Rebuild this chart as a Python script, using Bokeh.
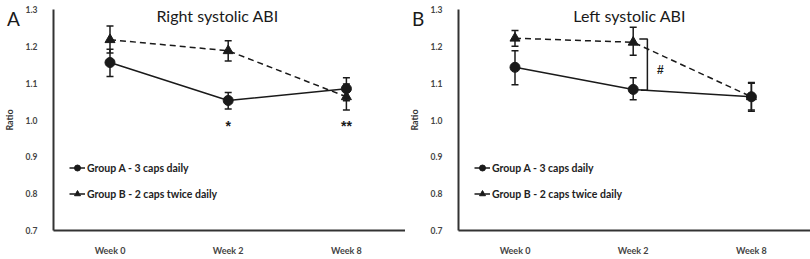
from bokeh.plotting import figure
from bokeh.models import (Range1d, FixedTicker, Whisker, TeeHead, ColumnDataSource,
                          Legend, LegendItem, Label, PrintfTickFormatter, Div)
from bokeh.layouts import row, column
from bokeh.embed import file_html
from bokeh.resources import INLINE

weeks = ["Week 0", "Week 2", "Week 8"]
xpos = [0, 1, 2]
y_ticks = [0.7, 0.8, 0.9, 1.0, 1.1, 1.2, 1.3]

# Right systolic ABI
right_a = [1.156, 1.053, 1.085]
right_a_lo = [1.118, 1.030, 1.052]
right_a_hi = [1.192, 1.075, 1.115]
right_b = [1.218, 1.188, 1.063]
right_b_lo = [1.182, 1.160, 1.027]
right_b_hi = [1.255, 1.215, 1.098]

# Left systolic ABI
left_a = [1.143, 1.083, 1.063]
left_a_lo = [1.096, 1.055, 1.024]
left_a_hi = [1.188, 1.115, 1.102]
left_b = [1.222, 1.211, 1.063]
left_b_lo = [1.200, 1.176, 1.027]
left_b_hi = [1.243, 1.252, 1.100]

label_a = "Group A - 3 caps daily"
label_b = "Group B - 2 caps twice daily"
panel_letters = ["A", "B"]

FONT = "Lato"
INK = "#1a1a1a"
H = 258


def panel(title, title_x, a, a_lo, a_hi, b, b_lo, b_hi):
    p = figure(width=405, height=H, output_backend="svg", toolbar_location=None,
               x_range=Range1d(-0.478, 2.5), y_range=Range1d(0.7, 1.3),
               min_border_left=45, min_border_right=0, min_border_top=9,
               min_border_bottom=20)
    p.outline_line_color = None
    p.xgrid.visible = False
    p.ygrid.visible = False
    p.background_fill_color = "white"
    p.border_fill_color = "white"

    for ax in (p.xaxis[0], p.yaxis[0]):
        ax.axis_line_color = "#333333"
        ax.axis_line_width = 2
        ax.major_tick_line_color = None
        ax.minor_tick_line_color = None
        ax.major_label_text_font = FONT
        ax.major_label_text_font_style = "bold"
        ax.major_label_text_color = "#444444"
    p.xaxis.major_label_text_font_size = "9px"
    p.yaxis.major_label_text_font_size = "8.5px"
    p.xaxis.ticker = FixedTicker(ticks=xpos)
    p.xaxis.major_label_overrides = {x: w for x, w in zip(xpos, weeks)}
    p.xaxis.major_label_standoff = 8
    p.yaxis.ticker = FixedTicker(ticks=y_ticks)
    p.yaxis.formatter = PrintfTickFormatter(format="%.1f")
    p.yaxis.major_label_standoff = 10
    p.yaxis.axis_label = "Ratio"
    p.yaxis.axis_label_text_font = FONT
    p.yaxis.axis_label_text_font_style = "bold"
    p.yaxis.axis_label_text_font_size = "9px"
    p.yaxis.axis_label_text_color = "#333333"
    p.yaxis.axis_label_standoff = 8

    src_a = ColumnDataSource(dict(x=xpos, y=a, lo=a_lo, hi=a_hi))
    src_b = ColumnDataSource(dict(x=xpos, y=b, lo=b_lo, hi=b_hi))

    for src in (src_a, src_b):
        w = Whisker(base="x", upper="hi", lower="lo", source=src,
                    line_color=INK, line_width=1.5,
                    upper_head=TeeHead(size=7, line_color=INK, line_width=1.5),
                    lower_head=TeeHead(size=7, line_color=INK, line_width=1.5))
        p.add_layout(w)

    la = p.line("x", "y", source=src_a, line_color=INK, line_width=1.5)
    sa = p.scatter("x", "y", source=src_a, marker="circle", size=10,
                   fill_color=INK, line_color=INK)
    lb = p.line("x", "y", source=src_b, line_color=INK, line_width=1.5,
                line_dash="6 4")
    sb = p.scatter("x", "y", source=src_b, marker="triangle", size=10,
                   fill_color=INK, line_color=INK)

    legend = Legend(items=[LegendItem(label=label_a, renderers=[la, sa]),
                           LegendItem(label=label_b, renderers=[lb, sb])],
                    location=(16, 29), padding=0, margin=0, spacing=11,
                    glyph_width=16, glyph_height=15, label_height=15,
                    label_standoff=2, border_line_color=None,
                    background_fill_alpha=0,
                    label_text_font=FONT, label_text_font_style="bold",
                    label_text_font_size="10.5px", label_text_color="#222222")
    p.add_layout(legend)

    p.add_layout(Label(x=title_x, y=1.284, text=title, text_font=FONT,
                       text_font_size="16px", text_align="center",
                       text_baseline="alphabetic", text_color=INK))
    return p


p1 = panel("Right systolic ABI", 0.91, right_a, right_a_lo, right_a_hi,
           right_b, right_b_lo, right_b_hi)
# significance markers, panel A
star_x = [1, 2]
star_y = [0.985, 0.985]
star_text = ["*", "**"]
p1.text(x=star_x, y=star_y, text=star_text, text_font_size="14px",
        text_font_style="bold", text_align="center", text_baseline="alphabetic",
        text_color=INK)

p2 = panel("Left systolic ABI", 0.97, left_a, left_a_lo, left_a_hi,
           left_b, left_b_lo, left_b_hi)
# bracket with hash, panel B
br_x = [1.052, 1.12, 1.12, 1.066]
br_y = [1.220, 1.220, 1.081, 1.081]
p2.line(br_x, br_y, line_color=INK, line_width=1.5)
p2.text(x=[1.23], y=[1.137], text=["#"], text_font_size="12px",
        text_font_style="bold", text_align="center", text_baseline="middle",
        text_color=INK)

# panel letters, overlaid in the top-left corner of each panel
letter_html = "".join(
    f'<div style="position:absolute; left:{2 + 405 * i}px; top:{4 - H}px; '
    f'font-family:Lato; font-size:19px; line-height:19px; color:{INK}; '
    f'white-space:nowrap;">{t}</div>'
    for i, t in enumerate(panel_letters))
letters = Div(text=letter_html, width=810, height=1,
              styles={"overflow": "visible", "z-index": "10",
                      "position": "relative"})

layout = column(row(p1, p2), letters, spacing=0)
open("out.html", "w").write(file_html(layout, INLINE))
